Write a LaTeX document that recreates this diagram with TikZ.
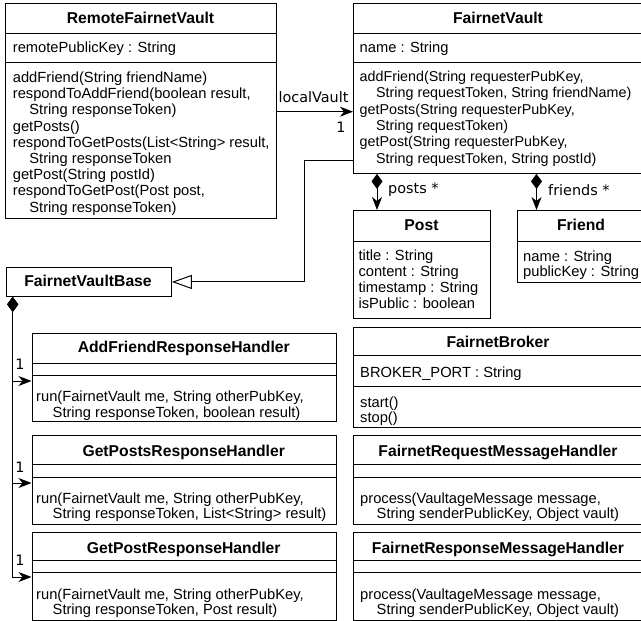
\documentclass[tikz,border=0pt]{standalone}
\usepackage{fontspec}
\setmainfont{Liberation Sans}
\newfontfamily\lblfont{DejaVu Sans}
\usetikzlibrary{arrows.meta}
\tikzset{
 box/.style={draw=black, line width=0.9pt, fill=white, inner sep=0pt, anchor=north west},
 sep/.style={draw=black, line width=0.9pt},
 ttl/.style={font=\fontsize{15.7}{16}\selectfont\bfseries, inner sep=0pt, anchor=base},
 txt/.style={font=\fontsize{14.7}{16}\selectfont, inner sep=0pt, anchor=base west},
 lbl/.style={font=\lblfont\fontsize{14.4}{16}\selectfont, inner sep=0pt},
 conn/.style={line width=1pt, draw=black},
 assoc/.style={conn, -{Stealth[length=13pt,width=10pt,inset=4pt]}},
 comp/.style={conn, {Diamond[length=15pt,width=11pt]}-{Stealth[length=13pt,width=10pt,inset=4pt]}},
 gen/.style={conn, -{Triangle[open,length=20pt,width=14pt,fill=white]}},
}
\newcommand\clines[5]{\foreach \t [count=\i] in {#5} {\node[txt] (#1\i) at ({#2},{#3+(\i-1)*#4}) {\t};}}
\newcommand\ind{\hspace*{16.5pt}}
\begin{document}
\begin{tikzpicture}[x=1pt,y=-1pt]
\useasboundingbox[fill=white] (0,0) rectangle (641,621);
% RemoteFairnetVault
\node[box, minimum width=271pt, minimum height=215pt] (rfv) at (5,3) {};
\draw[sep] (5,33) -- (276,33);
\draw[sep] (5,62) -- (276,62);
\node[ttl] (rfvT) at (140.5,23.4) {RemoteFairnetVault};
\node[txt] (rfvA) at (12.7,52.4) {remotePublicKey : String};
\clines{rfvM}{12.7}{82.4}{16.2}{{addFriend(String friendName)},{respondToAddFriend(boolean result,},{\ind String responseToken)},{getPosts()},{respondToGetPosts(List<String> result,},{\ind String responseToken},{getPost(String postId)},{respondToGetPost(Post post,},{\ind String responseToken)}}
% FairnetVault
\node[box, minimum width=291pt, minimum height=170pt] (fv) at (353,3) {};
\draw[sep] (353,33) -- (644,33);
\draw[sep] (353,62) -- (644,62);
\node[ttl] (fvT) at (498,23.4) {FairnetVault};
\node[txt] (fvA) at (359.5,52.4) {name : String};
\begin{scope}[txt/.append style={font=\fontsize{14.3}{16}\selectfont}]
\clines{fvM}{359.5}{81.6}{16.3}{{addFriend(String requesterPubKey,},{\ind String requestToken, String friendName)},{getPosts(String requesterPubKey,},{\ind String requestToken)},{getPost(String requesterPubKey,},{\ind String requestToken, String postId)}}
\end{scope}
% Post
\node[box, minimum width=137pt, minimum height=108pt] (post) at (353,210) {};
\draw[sep] (353,241) -- (490,241);
\node[ttl] (postT) at (421.5,230.4) {Post};
\clines{postA}{358.3}{260.4}{16}{{title : String},{content : String},{timestamp : String},{isPublic : boolean}}
% Friend
\node[box, minimum width=128pt, minimum height=72pt] (friend) at (517,210) {};
\draw[sep] (517,241) -- (645,241);
\node[ttl] (friendT) at (581,230.4) {Friend};
\clines{friendA}{523}{261}{15.5}{{name : String},{publicKey : String}}
% FairnetVaultBase
\node[box, minimum width=165.5pt, minimum height=29pt] (fvb) at (5.5,267) {};
\node[ttl] (fvbT) at (88,286.4) {FairnetVaultBase};
% AddFriendResponseHandler
\node[box, minimum width=304.5pt, minimum height=88pt] (afrh) at (31.5,333) {};
\draw[sep] (31.5,363) -- (336,363);
\draw[sep] (31.5,375) -- (336,375);
\node[ttl] (afrhT) at (183.75,352.4) {AddFriendResponseHandler};
\clines{afrhM}{36}{401.4}{16}{{run(FairnetVault me, String otherPubKey,},{\ind String responseToken, boolean result)}}
% GetPostsResponseHandler
\node[box, minimum width=304.5pt, minimum height=89pt] (gpsrh) at (31.5,435) {};
\draw[sep] (31.5,464) -- (336,464);
\draw[sep] (31.5,477) -- (336,477);
\node[ttl] (gpsrhT) at (183.75,456.4) {GetPostsResponseHandler};
\clines{gpsrhM}{36}{503.4}{15.5}{{run(FairnetVault me, String otherPubKey,},{\ind String responseToken, List<String> result)}}
% GetPostResponseHandler
\node[box, minimum width=304.5pt, minimum height=87.5pt] (gprh) at (31.5,532) {};
\draw[sep] (31.5,560) -- (336,560);
\draw[sep] (31.5,572) -- (336,572);
\node[ttl] (gprhT) at (183.75,553.4) {GetPostResponseHandler};
\clines{gprhM}{36}{599.4}{15.5}{{run(FairnetVault me, String otherPubKey,},{\ind String responseToken, Post result)}}
% FairnetBroker
\node[box, minimum width=291pt, minimum height=100pt] (fb) at (353,327) {};
\draw[sep] (353,355) -- (644,355);
\draw[sep] (353,386) -- (644,386);
\node[ttl] (fbT) at (498,347.4) {FairnetBroker};
\node[txt] (fbA) at (360,377.4) {BROKER\_PORT : String};
\clines{fbM}{360}{407.4}{15}{{start()},{stop()}}
% FairnetRequestMessageHandler
\node[box, minimum width=291pt, minimum height=89pt] (frq) at (353,435) {};
\draw[sep] (353,464) -- (644,464);
\draw[sep] (353,477) -- (644,477);
\node[ttl] (frqT) at (498,456.4) {FairnetRequestMessageHandler};
\clines{frqM}{360}{503.4}{15.5}{{process(VaultageMessage message,},{\ind String senderPublicKey, Object vault)}}
% FairnetResponseMessageHandler
\node[box, minimum width=291pt, minimum height=87.5pt] (frs) at (353,532) {};
\draw[sep] (353,560) -- (644,560);
\draw[sep] (353,572) -- (644,572);
\node[ttl] (frsT) at (498,553.4) {FairnetResponseMessageHandler};
\clines{frsM}{360}{599.4}{15.5}{{process(VaultageMessage message,},{\ind String senderPublicKey, Object vault)}}
% connectors
\coordinate (lv) at (0,111.7);
\draw[assoc] (rfv.east |- lv) -- (fv.west |- lv);
\node[lbl] (lvL) at (313.5,97) {localVault};
\node[lbl] (lv1) at (341,127) {1};
\coordinate (gb) at (304,160);
\draw[gen] (fv.west |- gb) -- (gb) -- (gb |- fvb.east) -- (fvb.east);
\coordinate (px) at (377,0);
\draw[comp] (fv.south -| px) -- (post.north -| px);
\node[lbl, anchor=west] (postsL) at (388,190) {posts *};
\coordinate (fx) at (536.5,0);
\draw[comp] (fv.south -| fx) -- (friend.north -| fx);
\node[lbl, anchor=west] (friendsL) at (548,190) {friends *};
\coordinate (cx) at (12.7,0);
\coordinate (b1) at (0,381);
\coordinate (b2) at (0,483);
\coordinate (b3) at (0,577);
\draw[comp] (fvb.south -| cx) |- (afrh.west |- b1);
\draw[comp] (fvb.south -| cx) |- (gpsrh.west |- b2);
\draw[comp] (fvb.south -| cx) |- (gprh.west |- b3);
\node[lbl] (m1) at (20,364) {1};
\node[lbl] (m2) at (20,467) {1};
\node[lbl] (m3) at (20,560) {1};
\end{tikzpicture}
\end{document}
